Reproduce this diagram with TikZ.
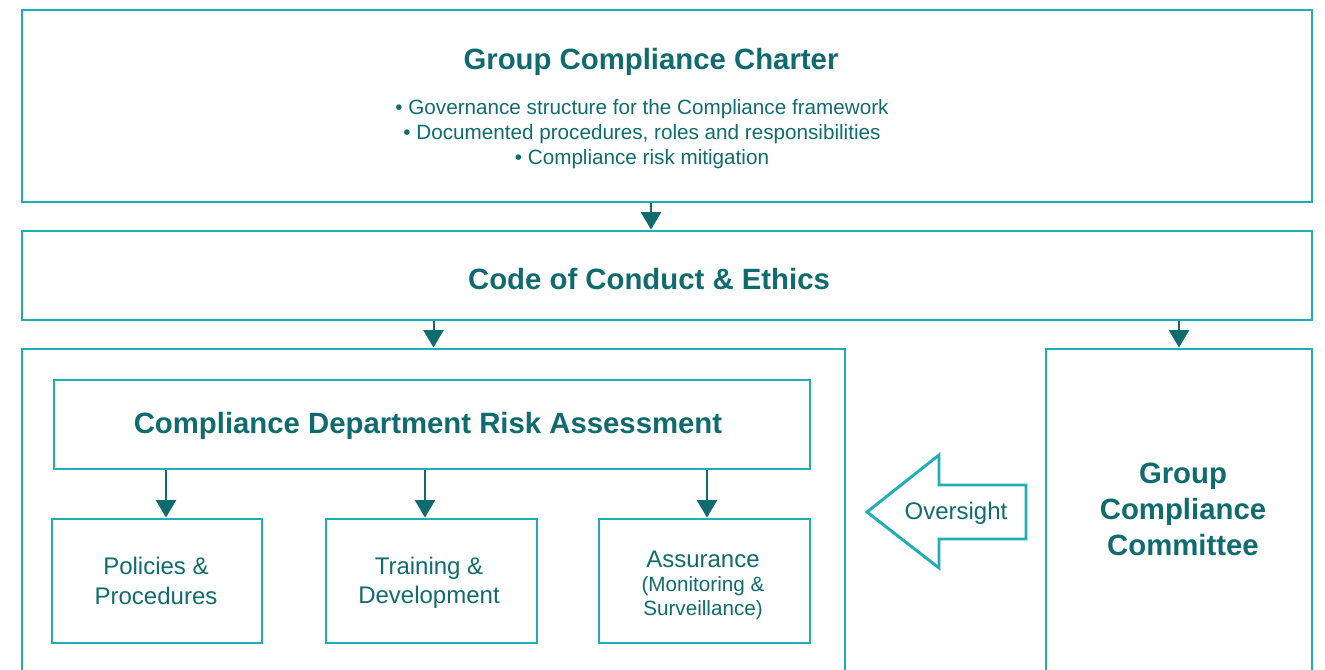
\documentclass[tikz,border=0pt]{standalone}
\usepackage{fontspec}
\setmainfont{Liberation Sans}
\usetikzlibrary{arrows.meta,fit}

\definecolor{rimteal}{RGB}{32,174,182}
\definecolor{inkteal}{RGB}{16,107,110}

\tikzset{every picture/.style={line width=0.75pt}}
\tikzset{
  frame/.style={draw=rimteal, line width=2.2pt, inner sep=0pt},
  flow/.style={draw=inkteal, line width=1.5pt, -{Triangle[width=15pt,length=13pt]}},
  headline/.style={text=inkteal, font=\fontsize{22}{27}\selectfont\bfseries, align=center, inner sep=0.75pt},
  plain/.style={text=inkteal, font=\fontsize{18}{22}\selectfont, align=center, inner sep=0.75pt},
  small/.style={text=inkteal, font=\fontsize{15.5}{19}\selectfont, align=center, inner sep=0.75pt},
}

\begin{document}
\begin{tikzpicture}[x=0.75pt,y=0.75pt,yscale=-1,xscale=1]
\clip (0,0) rectangle (1325,670);

% Frames
\node[frame, fit={(22,10) (1312,202)}] (charter) {};
\node[frame, fit={(22,231) (1312,320)}] (code) {};
\node[frame, fit={(22,349) (845,700)}] (dept) {};
\node[frame, fit={(1046,349) (1312,700)}] (committee) {};
\node[frame, fit={(54,380) (810,469)}] (cdra) {};
\node[frame, fit={(52,519) (262,643)}] (pp) {};
\node[frame, fit={(326,519) (537,643)}] (td) {};
\node[frame, fit={(599,519) (810,643)}] (assur) {};

% Text Node
\node[headline] (chartertitle) at (651,62) {Group Compliance Charter};
% Text Node
\node[small, font=\fontsize{15.5}{18.75}\selectfont] (charterlist) at (642,134) {\textbullet\ Governance structure for the Compliance framework\\\textbullet\ Documented procedures, roles and responsibilities\\\textbullet\ Compliance risk mitigation};
% Text Node
\node[headline] (codetitle) at (649,279) {Code of Conduct \& Ethics};
% Text Node
\node[headline] (cdratitle) at (428,426) {Compliance Department Risk Assessment};
% Text Node
\node[headline] (gcctitle) at (1183,509) {Group\\Compliance\\Committee};
% Text Node
\node[plain] (pptext) at (156,581) {Policies \&\\Procedures};
% Text Node
\node[plain] (tdtext) at (429,583) {Training \&\\Development};
% Text Node
\node[plain] (assurtext) at (703,559) {Assurance};
% Text Node
\node[small, font=\fontsize{15.5}{18}\selectfont] (assursub) at (703,598) {(Monitoring \&\\Surveillance)};

% Oversight arrow
\draw[rimteal, line width=2.2pt, line join=miter] (867,512) -- (939,455) -- (939,485) -- (1026,485)
  -- (1026,539) -- (939,539) -- (939,568) -- cycle;
\node[plain] (oversight) at (956,513) {Oversight};

% Connectors
\coordinate (ppx) at (166,0);
\coordinate (tdx) at (425,0);
\coordinate (asx) at (707,0);
\draw[flow] (charter.south -| chartertitle) -- (code.north -| chartertitle);
\draw[flow] (code.south -| dept.north) -- (dept.north);
\draw[flow] (code.south -| committee.north) -- (committee.north);
\draw[flow] (cdra.south -| ppx) -- (pp.north -| ppx);
\draw[flow] (cdra.south -| tdx) -- (td.north -| tdx);
\draw[flow] (cdra.south -| asx) -- (assur.north -| asx);

\end{tikzpicture}
\end{document}
